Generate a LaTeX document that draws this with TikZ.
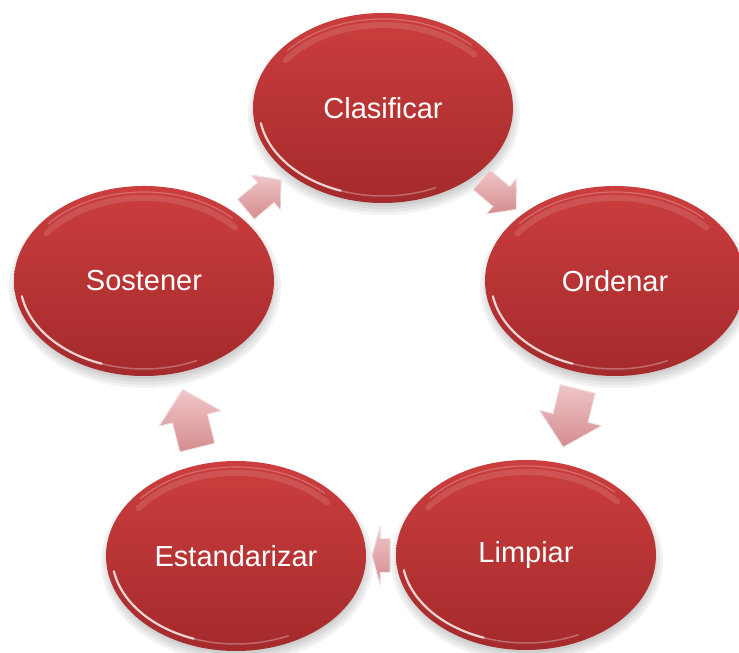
\documentclass[tikz,border=0pt]{standalone}
\usepackage{fontspec}
\setmainfont{Liberation Sans}
\usetikzlibrary{shapes.geometric,calc}
\definecolor{bubtop}{HTML}{CC3E3E}
\definecolor{bubbot}{HTML}{A42A2B}
\definecolor{arrlight}{HTML}{F0C6C8}
\definecolor{arrdark}{HTML}{D48C8F}
% #1 position, #2 angle, #3 length, #4 shaft half width, #5 head half width, #6 head length
\newcommand\cyclearrow[6]{%
  \begin{scope}[shift={#1},rotate=#2]
    \filldraw[arr] (-#3/2,-#4) -- ({#3/2-#6},-#4) -- ({#3/2-#6},-#5) -- (#3/2,0)
      -- ({#3/2-#6},#5) -- ({#3/2-#6},#4) -- (-#3/2,#4) -- cycle;
  \end{scope}}
\begin{document}
\begin{tikzpicture}[x=1pt,y=1pt,
  bub/.style={ellipse,minimum width=260pt,minimum height=190pt,inner sep=0pt,
    top color=bubtop,bottom color=bubbot,text=white,
    font=\fontsize{29}{34}\selectfont},
  arr/.style={top color=arrlight,bottom color=arrdark,
    draw=white!80!arrdark,line width=0.8pt,line join=round},
  hl/.style={white,line cap=round},
  shd/.style={black,opacity=0.05}
]
\useasboundingbox (0,0) rectangle (739,653);
\clip (0,0) rectangle (739,653);
% soft shadows
\foreach \p in {(383,545),(615,372),(144,372),(236,97),(526,98)}{
  \foreach \s in {0,3,6,9}{
    \fill[shd] \p ++(1,-6) ellipse ({127+\s} and {92+\s});
  }
}
% bubbles
\node[bub] (clas) at (383,545) {Clasificar};
\node[bub] (ord)  at (615,372) {Ordenar};
\node[bub] (sost) at (144,372) {Sostener};
\node[bub] (est)  at (236,97)  {Estandarizar};
\node[bub] (limp) at (526,98)  {Limpiar};
% glossy rims
\foreach \n in {clas,ord,sost,est,limp}{
  \draw[hl,opacity=0.12,line width=6pt] ([shift={(40:119 and 83)}]\n.center)
    arc[start angle=40,end angle=145,x radius=119,y radius=83];
  \draw[hl,opacity=0.25,line width=1.2pt] ([shift={(45:125 and 89)}]\n.center)
    arc[start angle=45,end angle=140,x radius=125,y radius=89];
  \draw[hl,opacity=0.8,line width=2.2pt] ([shift={(190:124 and 88)}]\n.center)
    arc[start angle=190,end angle=250,x radius=124,y radius=88];
  \draw[hl,opacity=0.3,line width=1.5pt] ([shift={(250:124 and 88)}]\n.center)
    arc[start angle=250,end angle=295,x radius=124,y radius=88];
}
% block arrows of the cycle
\cyclearrow{($(sost)!0.5!(clas)$)}{40}{46}{13}{23}{20}
\cyclearrow{($(clas)!0.5!(ord)$)}{-40}{46}{13}{23}{20}
\cyclearrow{($(ord)!0.5!(limp)$)}{-104}{60}{18}{32}{30}
\cyclearrow{($(limp)!0.5!(est)$)}{180}{18}{17}{29}{8}
\cyclearrow{($(est)!0.5!(sost)$)}{104}{60}{18}{32}{30}
\end{tikzpicture}
\end{document}
